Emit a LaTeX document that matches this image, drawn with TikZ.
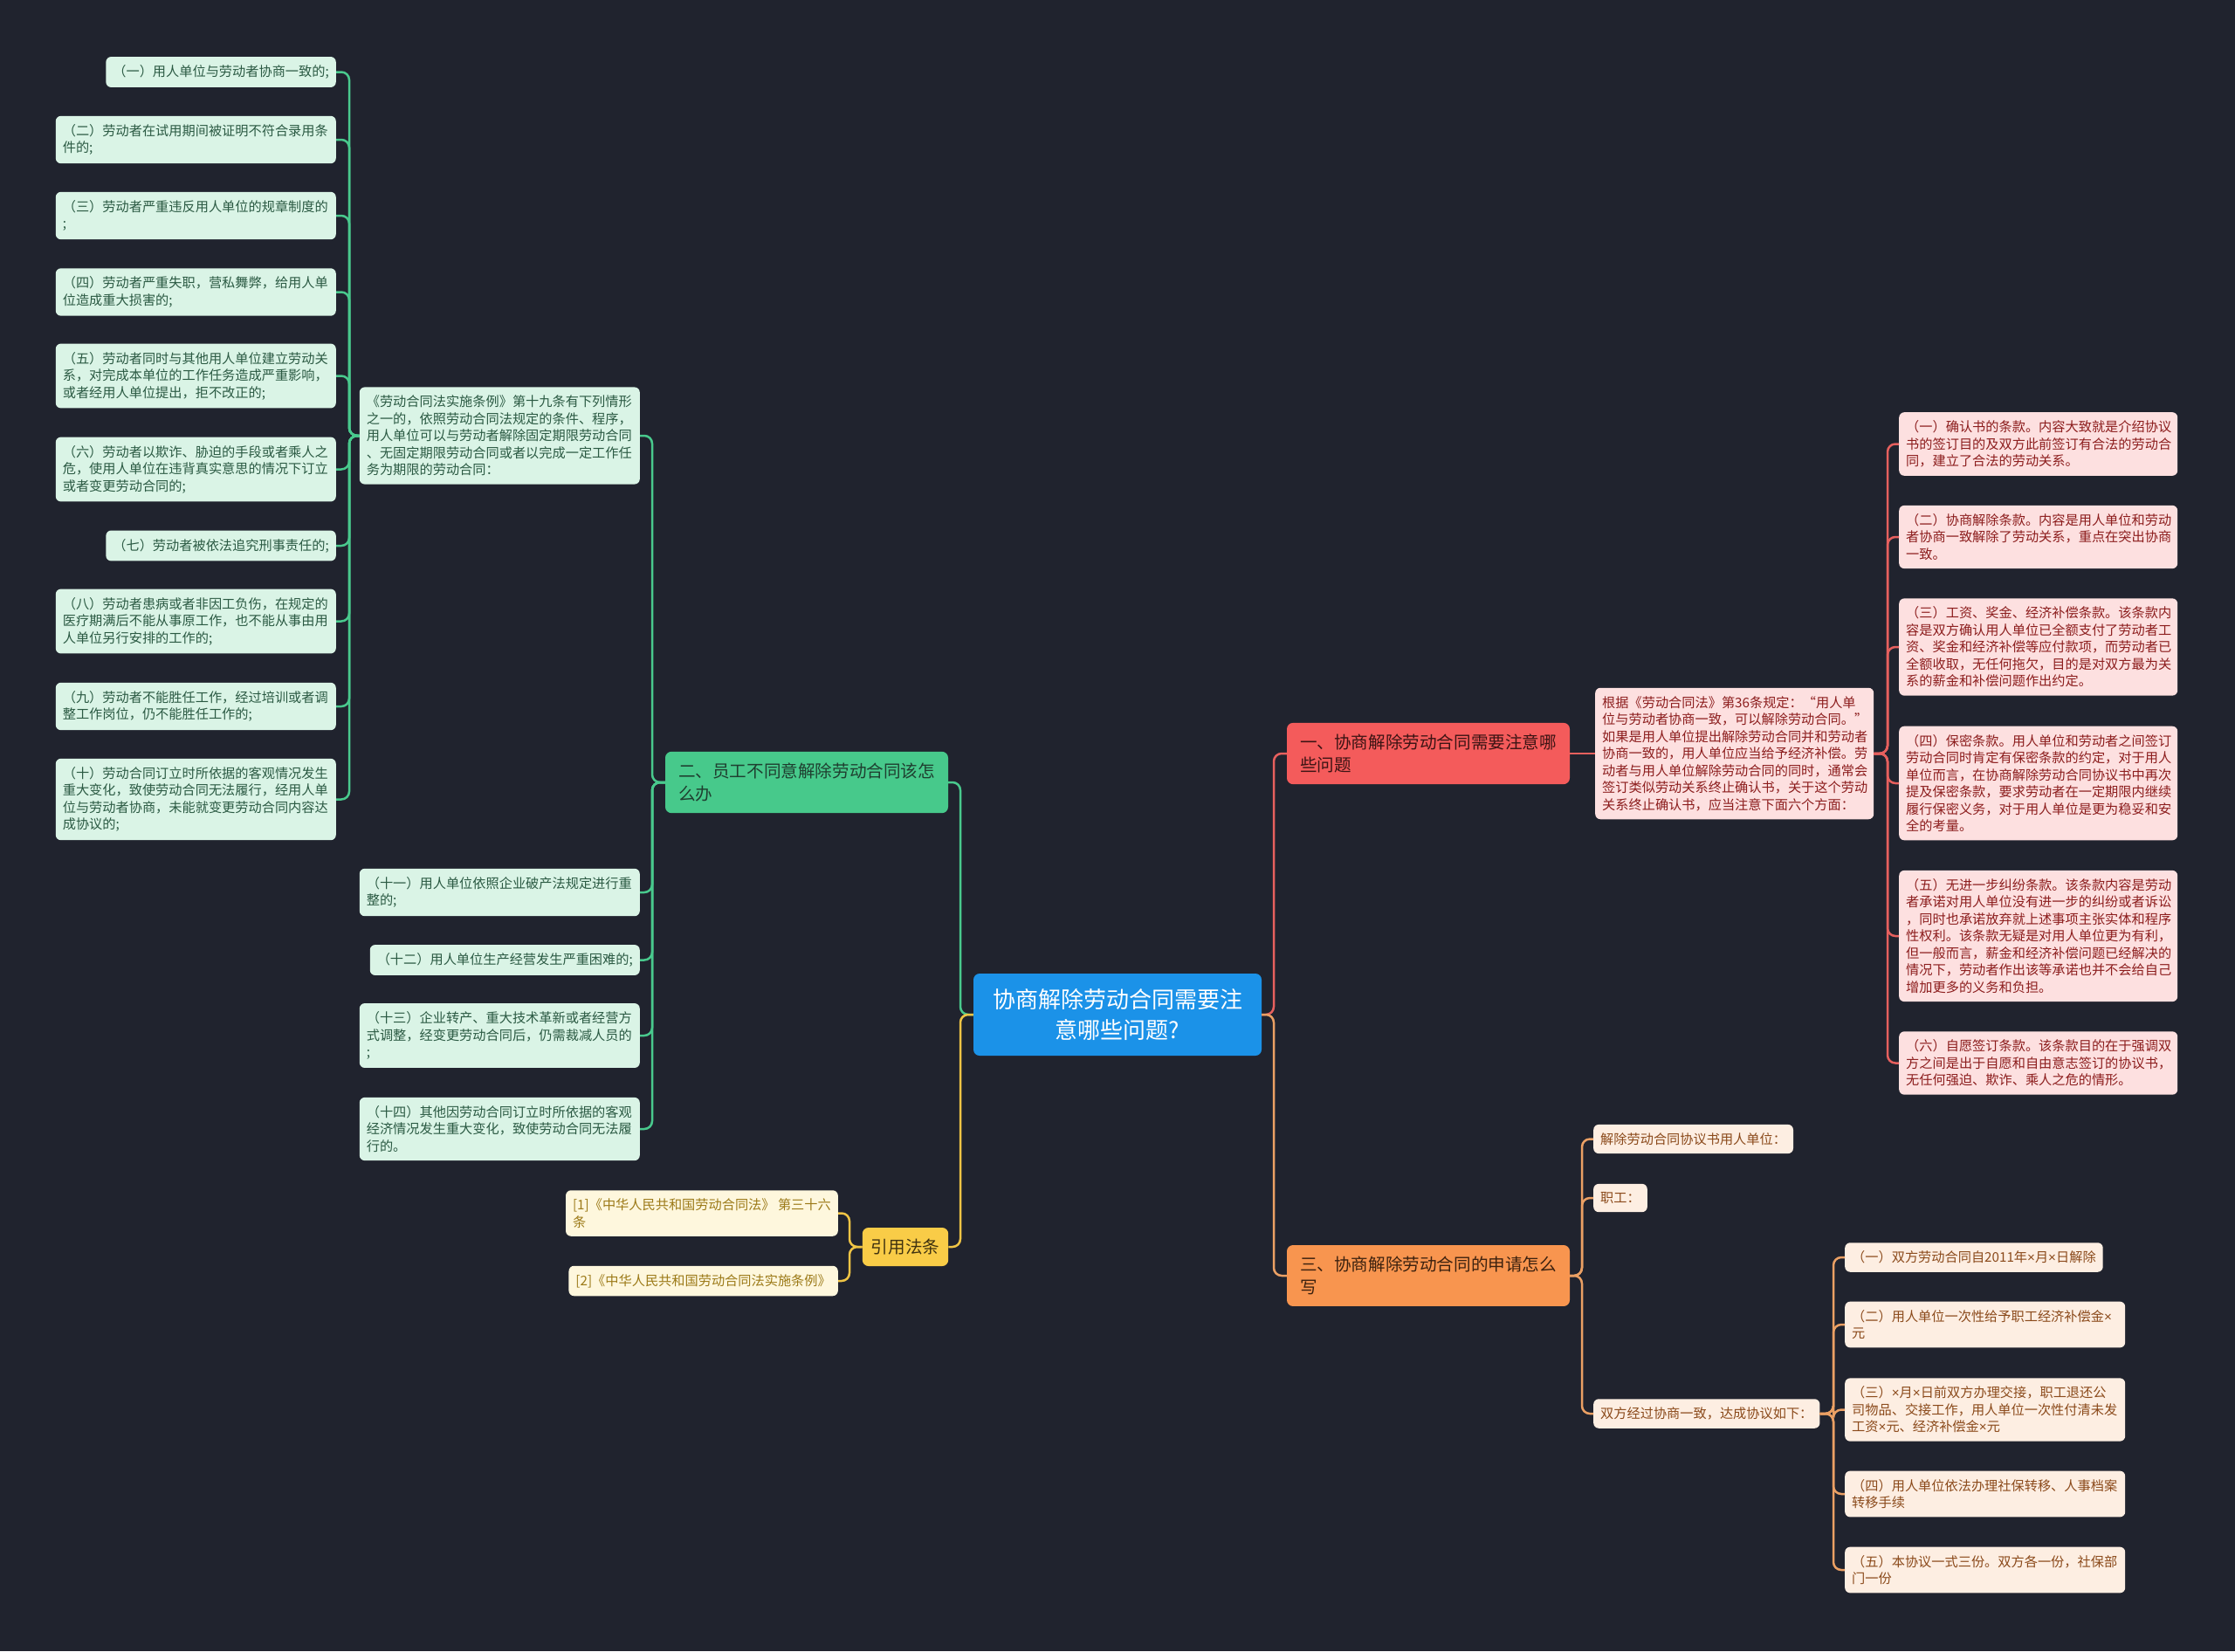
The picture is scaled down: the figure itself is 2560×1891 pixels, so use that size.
\documentclass[tikz,border=0pt]{standalone}
\usepackage{fontspec}
\setmainfont{Noto Sans CJK SC}
\newfontfamily\latinx{Liberation Sans}
\newcommand{\tms}{{\latinx ×}}
\definecolor{bgc}{HTML}{20232E}
\definecolor{cblue}{HTML}{1B92E8}
\definecolor{rmain}{HTML}{F45B5B}
\definecolor{gmain}{HTML}{47C98B}
\definecolor{omain}{HTML}{F8954F}
\definecolor{ymain}{HTML}{F9CC47}
\definecolor{rtxt}{HTML}{3C1414}
\definecolor{gtxt}{HTML}{1F3F30}
\definecolor{otxt}{HTML}{3D220F}
\definecolor{ytxt}{HTML}{3F3210}
\definecolor{gfill}{HTML}{DAF4E6}
\definecolor{gltxt}{HTML}{2B5A43}
\definecolor{rfill}{HTML}{FDE0E0}
\definecolor{rltxt}{HTML}{8C1D1D}
\definecolor{ofill}{HTML}{FDEEE2}
\definecolor{oltxt}{HTML}{8B4A1B}
\definecolor{yfill}{HTML}{FEF7DD}
\definecolor{yltxt}{HTML}{9C7A18}
\definecolor{gline}{HTML}{49C98D}
\definecolor{rline}{HTML}{E6605E}
\definecolor{oline}{HTML}{EBA064}
\definecolor{yline}{HTML}{EFC445}
\tikzset{
  leafbox/.style={rounded corners=6pt, inner xsep=8pt, inner ysep=9.5pt, align=left, font=\fontsize{15.2}{19.5}\selectfont},
  gleaf/.style={leafbox, fill=gfill, text=gltxt},
  rleaf/.style={leafbox, fill=rfill, text=rltxt},
  oleaf/.style={leafbox, fill=ofill, text=oltxt},
  yleaf/.style={leafbox, fill=yfill, text=yltxt},
  widebox/.style={text width=305pt},
  branchbox/.style={rounded corners=7pt, inner xsep=15pt, inner ysep=13pt, align=left, text width=294pt, font=\fontsize{19.6}{26}\selectfont},
  conn/.style={line width=2.5pt, rounded corners=9pt},
}
\begin{document}
\begin{tikzpicture}[x=1pt,y=-1pt]
\fill[bgc] (0,0) rectangle (2560,1891);
\useasboundingbox (0,0) rectangle (2560,1891);

% trunk coordinates
\coordinate (tA) at (400,0);
\coordinate (tB) at (747,0);
\coordinate (tL) at (1100,0);
\coordinate (tRef) at (973,0);
\coordinate (tR0) at (1459,0);
\coordinate (tRP) at (2162,0);
\coordinate (tOB) at (1812,0);
\coordinate (tO3) at (2100,0);

% center
\node[fill=cblue, text=white, rounded corners=7pt, minimum width=330pt, minimum height=94pt, align=center, font=\fontsize{26}{35}\selectfont] (c) at (1280,1162) {协商解除劳动合同需要注\\意哪些问题?};

% branches
\node[branchbox, fill=gmain, text=gtxt] (g) at (924,896) {二、员工不同意解除劳动合同该怎\\么办};
\node[rounded corners=7pt, inner xsep=10pt, minimum height=44pt, fill=ymain, text=ytxt, font=\fontsize{19.6}{26}\selectfont] (y) at (1037,1428) {引用法条};
\node[branchbox, fill=rmain, text=rtxt] (rb) at (1636,863) {一、协商解除劳动合同需要注意哪\\些问题};
\node[branchbox, fill=omain, text=otxt] (ob) at (1636,1461) {三、协商解除劳动合同的申请怎么\\写};

% column A
\node[gleaf, anchor=east] (a1) at (385,82.5) {（一）用人单位与劳动者协商一致的;};
\node[gleaf, widebox, anchor=east] (a2) at (385,160) {（二）劳动者在试用期间被证明不符合录用条\\件的;};
\node[gleaf, widebox, anchor=east] (a3) at (385,247) {（三）劳动者严重违反用人单位的规章制度的\\;};
\node[gleaf, widebox, anchor=east] (a4) at (385,334.5) {（四）劳动者严重失职，营私舞弊，给用人单\\位造成重大损害的;};
\node[gleaf, widebox, anchor=east] (a5) at (385,430.5) {（五）劳动者同时与其他用人单位建立劳动关\\系，对完成本单位的工作任务造成严重影响，\\或者经用人单位提出，拒不改正的;};
\node[gleaf, widebox, anchor=east] (a6) at (385,537.5) {（六）劳动者以欺诈、胁迫的手段或者乘人之\\危，使用人单位在违背真实意思的情况下订立\\或者变更劳动合同的;};
\node[gleaf, anchor=east] (a7) at (385,625) {（七）劳动者被依法追究刑事责任的;};
\node[gleaf, widebox, anchor=east] (a8) at (385,711.5) {（八）劳动者患病或者非因工负伤，在规定的\\医疗期满后不能从事原工作，也不能从事由用\\人单位另行安排的工作的;};
\node[gleaf, widebox, anchor=east] (a9) at (385,809) {（九）劳动者不能胜任工作，经过培训或者调\\整工作岗位，仍不能胜任工作的;};
\node[gleaf, widebox, anchor=east] (a10) at (385,915.5) {（十）劳动合同订立时所依据的客观情况发生\\重大变化，致使劳动合同无法履行，经用人单\\位与劳动者协商，未能就变更劳动合同内容达\\成协议的;};

% column B
\node[gleaf, widebox, anchor=east] (p2a) at (733,499) {《劳动合同法实施条例》第十九条有下列情形\\之一的，依照劳动合同法规定的条件、程序，\\用人单位可以与劳动者解除固定期限劳动合同\\、无固定期限劳动合同或者以完成一定工作任\\务为期限的劳动合同：};
\node[gleaf, widebox, anchor=east] (b11) at (733,1022) {（十一）用人单位依照企业破产法规定进行重\\整的;};
\node[gleaf, anchor=east] (b12) at (733,1099.5) {（十二）用人单位生产经营发生严重困难的;};
\node[gleaf, widebox, anchor=east] (b13) at (733,1186) {（十三）企业转产、重大技术革新或者经营方\\式调整，经变更劳动合同后，仍需裁减人员的\\;};
\node[gleaf, widebox, anchor=east] (b14) at (733,1293) {（十四）其他因劳动合同订立时所依据的客观\\经济情况发生重大变化，致使劳动合同无法履\\行的。};

% references
\node[yleaf, anchor=east] (ref1) at (960,1389.5) {[1]《中华人民共和国劳动合同法》 第三十六\\条};
\node[yleaf, anchor=east] (ref2) at (960,1467) {[2]《中华人民共和国劳动合同法实施条例》};

% red paragraph and column R
\node[rleaf, text width=303pt, anchor=west] (rp) at (1827,863) {根据《劳动合同法》第36条规定：“用人单\\位与劳动者协商一致，可以解除劳动合同。”\\如果是用人单位提出解除劳动合同并和劳动者\\协商一致的，用人单位应当给予经济补偿。劳\\动者与用人单位解除劳动合同的同时，通常会\\签订类似劳动关系终止确认书，关于这个劳动\\关系终止确认书，应当注意下面六个方面：};
\node[rleaf, text width=303pt, anchor=west] (r1) at (2175,508.5) {（一）确认书的条款。内容大致就是介绍协议\\书的签订目的及双方此前签订有合法的劳动合\\同，建立了合法的劳动关系。};
\node[rleaf, text width=303pt, anchor=west] (r2) at (2175,615) {（二）协商解除条款。内容是用人单位和劳动\\者协商一致解除了劳动关系，重点在突出协商\\一致。};
\node[rleaf, text width=303pt, anchor=west] (r3) at (2175,741) {（三）工资、奖金、经济补偿条款。该条款内\\容是双方确认用人单位已全额支付了劳动者工\\资、奖金和经济补偿等应付款项，而劳动者已\\全额收取，无任何拖欠，目的是对双方最为关\\系的薪金和补偿问题作出约定。};
\node[rleaf, text width=303pt, anchor=west] (r4) at (2175,897) {（四）保密条款。用人单位和劳动者之间签订\\劳动合同时肯定有保密条款的约定，对于用人\\单位而言，在协商解除劳动合同协议书中再次\\提及保密条款，要求劳动者在一定期限内继续\\履行保密义务，对于用人单位是更为稳妥和安\\全的考量。};
\node[rleaf, text width=303pt, anchor=west] (r5) at (2175,1072) {（五）无进一步纠纷条款。该条款内容是劳动\\者承诺对用人单位没有进一步的纠纷或者诉讼\\，同时也承诺放弃就上述事项主张实体和程序\\性权利。该条款无疑是对用人单位更为有利，\\但一般而言，薪金和经济补偿问题已经解决的\\情况下，劳动者作出该等承诺也并不会给自己\\增加更多的义务和负担。};
\node[rleaf, text width=303pt, anchor=west] (r6) at (2175,1217.5) {（六）自愿签订条款。该条款目的在于强调双\\方之间是出于自愿和自由意志签订的协议书，\\无任何强迫、欺诈、乘人之危的情形。};

% orange columns
\node[oleaf, anchor=west] (o1) at (1825,1304.5) {解除劳动合同协议书用人单位：};
\node[oleaf, anchor=west] (o2) at (1825,1372) {职工：};
\node[oleaf, anchor=west] (o3) at (1825,1619) {双方经过协商一致，达成协议如下：};
\node[oleaf, anchor=west] (q1) at (2113,1440) {（一）双方劳动合同自2011年\tms 月\tms 日解除};
\node[oleaf, widebox, anchor=west] (q2) at (2113,1517) {（二）用人单位一次性给予职工经济补偿金\tms\\元};
\node[oleaf, widebox, anchor=west] (q3) at (2113,1614.5) {（三）\tms 月\tms 日前双方办理交接，职工退还公\\司物品、交接工作，用人单位一次性付清未发\\工资\tms 元、经济补偿金\tms 元};
\node[oleaf, widebox, anchor=west] (q4) at (2113,1711) {（四）用人单位依法办理社保转移、人事档案\\转移手续};
\node[oleaf, widebox, anchor=west] (q5) at (2113,1798) {（五）本协议一式三份。双方各一份，社保部\\门一份};

% connectors
\foreach \n in {a1,a2,a3,a4,a5,a6,a7,a8,a9,a10}
  \draw[conn, gline] (p2a.west) -- (p2a.west -| tA) |- (\n.east);
\foreach \n in {p2a,b11,b12,b13,b14}
  \draw[conn, gline] (g.west) -- (g.west -| tB) |- (\n.east);
\foreach \n in {ref1,ref2}
  \draw[conn, yline] (y.west) -- (y.west -| tRef) |- (\n.east);
\draw[conn, gline] (c.west) -- (c.west -| tL) |- (g.east);
\draw[conn, yline] (c.west) -- (c.west -| tL) |- (y.east);
\draw[conn, rline] (c.east) -- (c.east -| tR0) |- (rb.west);
\draw[conn, oline] (c.east) -- (c.east -| tR0) |- (ob.west);
\draw[conn, rline] (rb.east) -- (rp.west);
\foreach \n in {r1,r2,r3,r4,r5,r6}
  \draw[conn, rline] (rp.east) -- (rp.east -| tRP) |- (\n.west);
\foreach \n in {o1,o2,o3}
  \draw[conn, oline] (ob.east) -- (ob.east -| tOB) |- (\n.west);
\foreach \n in {q1,q2,q3,q4,q5}
  \draw[conn, oline] (o3.east) -- (o3.east -| tO3) |- (\n.west);
\end{tikzpicture}
\end{document}
